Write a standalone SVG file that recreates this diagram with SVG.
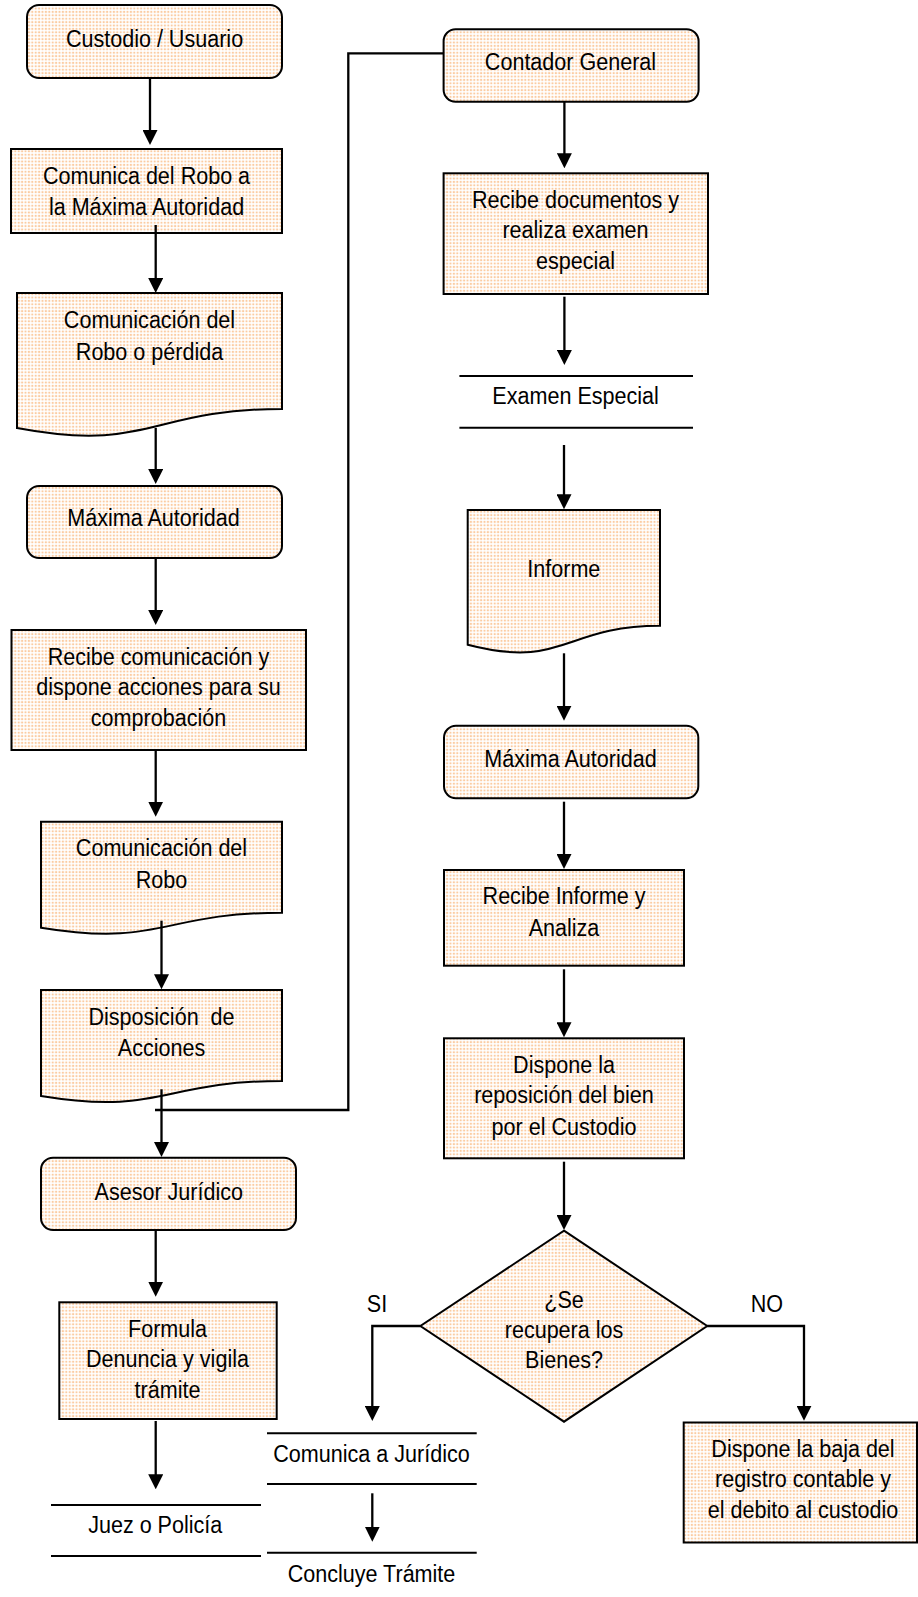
<svg xmlns="http://www.w3.org/2000/svg" width="918" height="1597" viewBox="0 0 918 1597">
<defs>
<pattern id="dots" patternUnits="userSpaceOnUse" width="3.4" height="3.4">
<rect width="3.4" height="3.4" fill="#ffffff"/>
<circle cx="1.7" cy="1.7" r="1.15" fill="#fbcca2"/>
</pattern>
<marker id="ah" viewBox="0 0 15 15" refX="10" refY="7.5" markerWidth="15" markerHeight="15" markerUnits="userSpaceOnUse" orient="auto">
<path d="M0,0 L15,7.5 L0,15 Z" fill="#000"/>
</marker>
<style>
.s{fill:url(#dots);stroke:#000;stroke-width:2}
.ln{stroke:#000;stroke-width:2;fill:none}
.c{stroke:#000;stroke-width:2.3;fill:none}
.a{marker-end:url(#ah)}
.t{font-family:"Liberation Sans",Arial,sans-serif;font-size:24.5px;fill:#000;text-anchor:middle}
</style>
</defs>
<rect width="918" height="1597" fill="#ffffff"/>

<g id="n1"><rect class="s" x="27" y="5" width="255" height="73" rx="12"/>
<text class="t" transform="translate(154.5 0) scale(0.88 1)"><tspan x="0" y="47">Custodio / Usuario</tspan></text></g>

<g id="n2"><rect class="s" x="11" y="149" width="271" height="84"/>
<text class="t" transform="translate(146.5 0) scale(0.88 1)"><tspan x="0" y="184.5">Comunica del Robo a</tspan><tspan x="0" y="215">la Máxima Autoridad</tspan></text></g>

<g id="n3"><path class="s" d="M17,293 H282 V409 C149.5,409 149.5,453.1 17,428.1 Z"/>
<text class="t" transform="translate(149.5 0) scale(0.88 1)"><tspan x="0" y="328.5">Comunicación del</tspan><tspan x="0" y="360">Robo o pérdida</tspan></text></g>

<g id="n4"><rect class="s" x="27" y="486" width="255" height="72" rx="12"/>
<text class="t" transform="translate(153.5 0) scale(0.88 1)"><tspan x="0" y="526.5">Máxima Autoridad</tspan></text></g>

<g id="n5"><rect class="s" x="11.5" y="630" width="294.5" height="120"/>
<text class="t" transform="translate(158.5 0) scale(0.88 1)"><tspan x="0" y="665">Recibe comunicación y</tspan><tspan x="0" y="695.5">dispone acciones para su</tspan><tspan x="0" y="726">comprobación</tspan></text></g>

<g id="n6"><path class="s" d="M41,821.7 H282 V912.7 C161.5,912.7 161.5,947.4 41,927.7 Z"/>
<text class="t" transform="translate(161.5 0) scale(0.88 1)"><tspan x="0" y="856.5">Comunicación del</tspan><tspan x="0" y="888">Robo</tspan></text></g>

<g id="n7"><path class="s" d="M41,990 H282 V1081 C161.5,1081 161.5,1115.7 41,1096 Z"/>
<text class="t" style="white-space:pre" transform="translate(161.5 0) scale(0.88 1)"><tspan x="0" y="1025">Disposición  de</tspan><tspan x="0" y="1056.5">Acciones</tspan></text></g>

<g id="n8"><rect class="s" x="41" y="1157.7" width="255" height="72.3" rx="12"/>
<text class="t" transform="translate(168.8 0) scale(0.88 1)"><tspan x="0" y="1200">Asesor Jurídico</tspan></text></g>

<g id="n9"><rect class="s" x="59.3" y="1302.3" width="217.4" height="116.7"/>
<text class="t" transform="translate(167.5 0) scale(0.88 1)"><tspan x="0" y="1337.5">Formula</tspan><tspan x="0" y="1367.5">Denuncia y vigila</tspan><tspan x="0" y="1398">trámite</tspan></text></g>

<g id="n10"><line class="ln" x1="51" y1="1505" x2="261" y2="1505"/><line class="ln" x1="51" y1="1556" x2="261" y2="1556"/>
<text class="t" transform="translate(155.2 0) scale(0.88 1)"><tspan x="0" y="1533">Juez o Policía</tspan></text></g>

<g id="n11"><rect class="s" x="443.6" y="29.3" width="255" height="72.4" rx="12"/>
<text class="t" transform="translate(570.5 0) scale(0.88 1)"><tspan x="0" y="70">Contador General</tspan></text></g>

<g id="n12"><rect class="s" x="443.6" y="173.3" width="264.4" height="120.7"/>
<text class="t" transform="translate(575.5 0) scale(0.88 1)"><tspan x="0" y="208.5">Recibe documentos y</tspan><tspan x="0" y="238.5">realiza examen</tspan><tspan x="0" y="269.5">especial</tspan></text></g>

<g id="n13"><line class="ln" x1="459.4" y1="376" x2="693" y2="376"/><line class="ln" x1="459.4" y1="427.7" x2="693" y2="427.7"/>
<text class="t" transform="translate(575.6 0) scale(0.88 1)"><tspan x="0" y="404">Examen Especial</tspan></text></g>

<g id="n14"><path class="s" d="M467.7,510 H660 V625.7 C563.9,625.7 563.9,669.8 467.7,644.8 Z"/>
<text class="t" transform="translate(563.8 0) scale(0.88 1)"><tspan x="0" y="576.7">Informe</tspan></text></g>

<g id="n15"><rect class="s" x="444" y="725.7" width="254.3" height="72.6" rx="12"/>
<text class="t" transform="translate(570.5 0) scale(0.88 1)"><tspan x="0" y="766.7">Máxima Autoridad</tspan></text></g>

<g id="n16"><rect class="s" x="444" y="870" width="240" height="95.7"/>
<text class="t" transform="translate(564 0) scale(0.88 1)"><tspan x="0" y="904">Recibe Informe y</tspan><tspan x="0" y="936">Analiza</tspan></text></g>

<g id="n17"><rect class="s" x="444" y="1038.3" width="240" height="120"/>
<text class="t" transform="translate(564 0) scale(0.88 1)"><tspan x="0" y="1072.7">Dispone la</tspan><tspan x="0" y="1103.3">reposición del bien</tspan><tspan x="0" y="1135">por el Custodio</tspan></text></g>

<g id="n18"><path class="s" d="M564,1230.7 L707.2,1326 L564,1421.7 L420.4,1326 Z"/>
<text class="t" transform="translate(564 0) scale(0.88 1)"><tspan x="0" y="1308.3">¿Se</tspan><tspan x="0" y="1338.3">recupera los</tspan><tspan x="0" y="1368.3">Bienes?</tspan></text></g>

<g id="n19"><rect class="s" x="683.7" y="1422.5" width="233.3" height="120"/>
<text class="t" transform="translate(803 0) scale(0.88 1)"><tspan x="0" y="1456.7">Dispone la baja del</tspan><tspan x="0" y="1486.7">registro contable y</tspan><tspan x="0" y="1518.3">el debito al custodio</tspan></text></g>

<g id="n20"><line class="ln" x1="267" y1="1433.3" x2="476.7" y2="1433.3"/><line class="ln" x1="267" y1="1484" x2="476.7" y2="1484"/>
<text class="t" transform="translate(371.5 0) scale(0.88 1)"><tspan x="0" y="1461.7">Comunica a Jurídico</tspan></text></g>

<g id="n21"><line class="ln" x1="267" y1="1552.7" x2="476.7" y2="1552.7"/>
<text class="t" transform="translate(371.5 0) scale(0.88 1)"><tspan x="0" y="1581.7">Concluye Trámite</tspan></text></g>

<g id="connectors">
<path class="c a" d="M150,78 V140"/>
<path class="c a" d="M155.7,225 V288"/>
<path class="c a" d="M155.7,428 V479"/>
<path class="c a" d="M155.7,558 V620"/>
<path class="c a" d="M155.7,750 V811.7"/>
<path class="c a" d="M161.5,920.7 V984.3"/>
<path class="c a" d="M161.5,1089.3 V1152"/>
<path class="c a" d="M155.7,1230 V1291.7"/>
<path class="c a" d="M155.7,1421 V1484.3"/>
<path class="c" d="M155,1110 H348.3 V53.3 H443.6"/>
<path class="c a" d="M564.4,101.7 V163.3"/>
<path class="c a" d="M564.4,296.7 V360"/>
<path class="c a" d="M564,445 V504.3"/>
<path class="c a" d="M564,653.3 V715.7"/>
<path class="c a" d="M564,801.7 V864"/>
<path class="c a" d="M564,969.3 V1032.3"/>
<path class="c a" d="M564,1161.7 V1225"/>
<path class="c a" d="M420.4,1326 H372.3 V1416"/>
<path class="c a" d="M707.2,1326 H804 V1415.7"/>
<path class="c a" d="M372.3,1493.3 V1536.7"/>
</g>

<g id="labels">
<text class="t" transform="translate(377 0) scale(0.88 1)"><tspan x="0" y="1311.7">SI</tspan></text>
<text class="t" transform="translate(766.8 0) scale(0.88 1)"><tspan x="0" y="1311.7">NO</tspan></text>
</g>
</svg>
